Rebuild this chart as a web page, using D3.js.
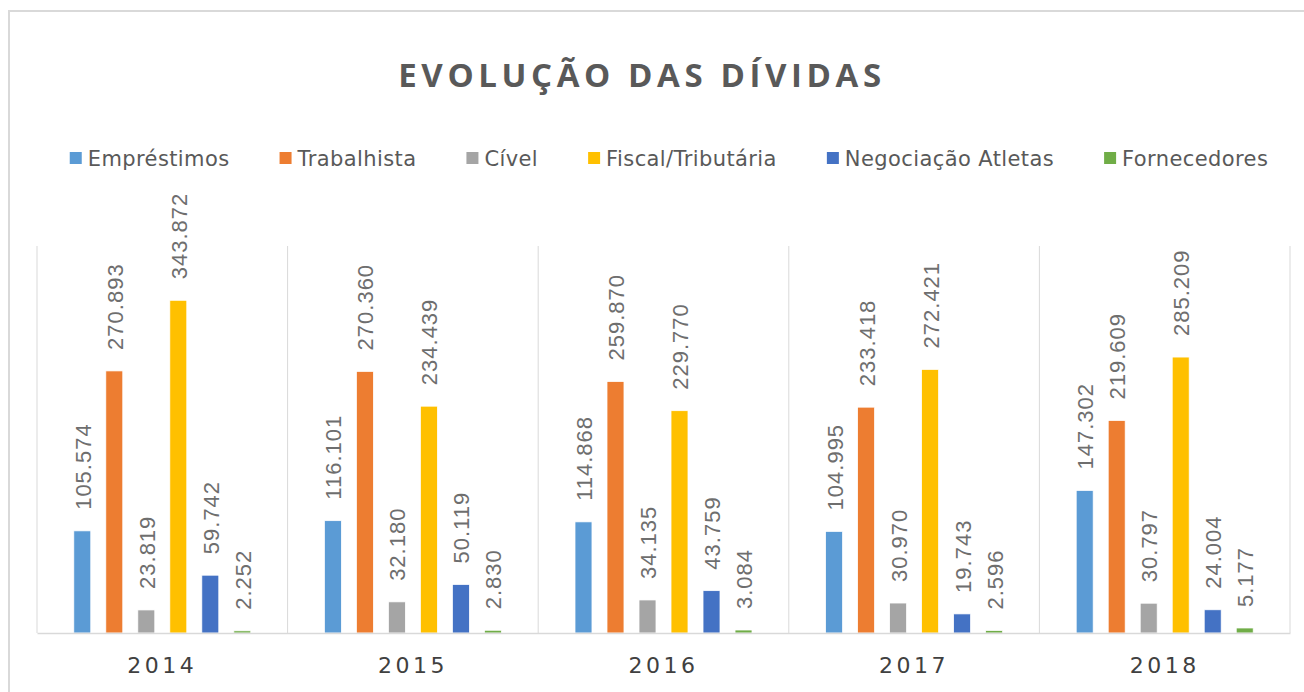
<!DOCTYPE html>
<html>
<head>
<meta charset="utf-8">
<script src="https://cdnjs.cloudflare.com/ajax/libs/d3/7.8.5/d3.min.js"></script>
<style>
  body { margin: 0; background: #fff; }
  svg { display: block; }
</style>
</head>
<body>
<svg id="chart" width="1304" height="692"></svg>
<script>
// years on the category axis
var years = ["2014", "2015", "2016", "2017", "2018"];

// series names, in legend order
var series = ["Empréstimos", "Trabalhista", "Cível", "Fiscal/Tributária", "Negociação Atletas", "Fornecedores"];

// values per series, one per year (R$ mil)
var emprestimos  = [105574, 116101, 114868, 104995, 147302];
var trabalhista  = [270893, 270360, 259870, 233418, 219609];
var civel        = [23819, 32180, 34135, 30970, 30797];
var fiscal       = [343872, 234439, 229770, 272421, 285209];
var negociacao   = [59742, 50119, 43759, 19743, 24004];
var fornecedores = [2252, 2830, 3084, 2596, 5177];

var colors = ["#5b9bd5", "#ed7d31", "#a5a5a5", "#ffc000", "#4472c4", "#70ad47"];

var values = [emprestimos, trabalhista, civel, fiscal, negociacao, fornecedores];

var svg = d3.select("#chart");

// outer chart frame (only top and left edges visible in the picture)
svg.append("rect")
    .attr("x", 9).attr("y", 11)
    .attr("width", 1320).attr("height", 700)
    .attr("fill", "none")
    .attr("stroke", "#d9d9d9")
    .attr("stroke-width", 2);

// title
svg.append("text")
    .attr("x", 642).attr("y", 87)
    .attr("text-anchor", "middle")
    .style("font-family", "'Open Sans', sans-serif")
    .style("font-weight", "bold")
    .style("font-size", "33px")
    .style("letter-spacing", "4.6px")
    .attr("fill", "#595959")
    .text("EVOLUÇÃO  DAS  DÍVIDAS");

// legend
var legend = svg.append("g");
var lx = 0;
series.forEach(function(name, i) {
    var g = legend.append("g").attr("transform", "translate(" + lx + ",0)");
    g.append("rect")
	.attr("x", 0).attr("y", -6)
	.attr("width", 12).attr("height", 12)
	.attr("fill", colors[i]);
    var t = g.append("text")
	.attr("x", 18).attr("y", 7.5)
	.style("font-family", "'DejaVu Sans', sans-serif")
	.style("font-size", "21px")
	.style("letter-spacing", "0.4px")
	.attr("fill", "#595959")
	.text(name);
    lx += 18 + t.node().getComputedTextLength() + 50;
});
lx -= 50;
legend.attr("transform", "translate(" + (669 - lx / 2) + ",158)");

// scales
var x = d3.scaleBand()
    .domain(years)
    .range([37, 1290])
    .padding(0);

var xs = d3.scaleBand()
    .domain(series)
    .range([0, x.bandwidth()])
    .paddingInner(0.47)
    .paddingOuter(1.15);

var y = d3.scaleLinear()
    .domain([0, 400000])
    .range([633, 246]);

// vertical separators between categories
svg.append("g")
    .selectAll("line")
    .data(years.concat(["end"]))
    .enter()
    .append("line")
    .attr("x1", function(d, i) { return i < years.length ? x(d) : x.range()[1]; })
    .attr("x2", function(d, i) { return i < years.length ? x(d) : x.range()[1]; })
    .attr("y1", y(400000))
    .attr("y2", y(0))
    .attr("stroke", "#d9d9d9")
    .attr("stroke-width", 1);

// bars
var fmt = function(v) { return d3.format(",")(v).replace(/,/g, "."); };

var groups = svg.append("g")
    .selectAll("g")
    .data(years)
    .enter()
    .append("g")
    .attr("transform", function(d) { return "translate(" + x(d) + ",0)"; });

groups.selectAll("rect")
    .data(function(d, yi) { return series.map(function(s, si) { return {s: s, si: si, v: values[si][yi]}; }); })
    .enter()
    .append("rect")
    .attr("x", function(d) { return xs(d.s); })
    .attr("y", function(d) { return y(d.v); })
    .attr("width", xs.bandwidth())
    .attr("height", function(d) { return y(0) - y(d.v); })
    .attr("fill", function(d) { return colors[d.si]; })
    .attr("stroke", "#fff")
    .attr("stroke-width", 0.75);

// rotated value labels
groups.selectAll("text")
    .data(function(d, yi) { return series.map(function(s, si) { return {s: s, si: si, v: values[si][yi]}; }); })
    .enter()
    .append("text")
    .attr("transform", function(d) {
	return "translate(" + (xs(d.s) + xs.bandwidth() / 2 + 8.5) + "," + (y(d.v) - 21) + ") rotate(-90)";
    })
    .attr("text-anchor", "start")
    .style("font-family", "'Liberation Sans', sans-serif")
    .style("font-size", "22px")
    .style("letter-spacing", "1px")
    .attr("fill", "#6e6e6e")
    .text(function(d) { return fmt(d.v); });

// x axis
var xAxis = svg.append("g")
    .attr("transform", "translate(0," + y(0) + ")")
    .call(d3.axisBottom(x).tickSize(0).tickPadding(40));

xAxis.select(".domain").attr("stroke", "#d9d9d9").attr("stroke-width", 1.5);
xAxis.selectAll("text")
    .style("font-family", "'DejaVu Sans', sans-serif")
    .style("font-size", "22px")
    .style("letter-spacing", "3.5px")
    .attr("fill", "#404040")
    .attr("dy", 0);
</script>
</body>
</html>
